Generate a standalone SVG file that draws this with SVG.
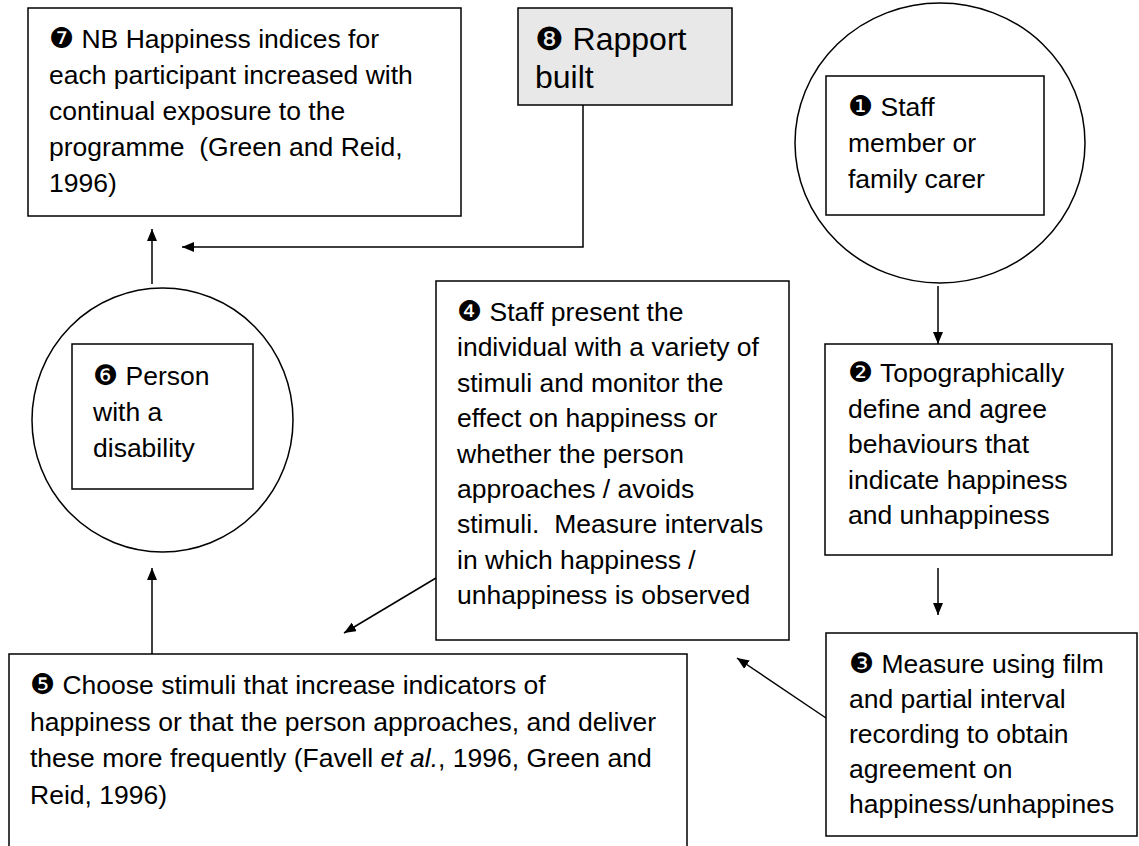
<svg xmlns="http://www.w3.org/2000/svg" width="1139" height="846" viewBox="0 0 1139 846">
  <style>
    .box { fill: #ffffff; stroke: #000000; stroke-width: 1.5; }
    .grey { fill: #e8e8e8; }
    .ring { fill: #ffffff; stroke: #000000; stroke-width: 1.5; }
    .t { font-family: "Liberation Sans", Arial, sans-serif; font-size: 26.5px; fill: #000000; }
    .big { font-size: 32px; }
    .num { font-family: "DejaVu Sans", sans-serif; font-size: 28px; }
    .wire { fill: none; stroke: #000000; stroke-width: 1.5; }
  </style>
  <defs>
    <marker id="arrow" viewBox="0 0 12 10" refX="12" refY="5" markerWidth="12" markerHeight="10" markerUnits="userSpaceOnUse" orient="auto">
      <path d="M0,0 L12,5 L0,10 Z" fill="#000000"/>
    </marker>
  </defs>

  <rect width="1139" height="846" fill="#ffffff"/>

  <!-- step 7 -->
  <g id="node7">
    <rect class="box" x="28" y="8" width="433" height="208"/>
    <text class="t">
      <tspan x="49" y="48"><tspan class="num">❼</tspan> NB Happiness indices for</tspan>
      <tspan x="49" y="84">each participant increased with</tspan>
      <tspan x="49" y="120">continual exposure to the</tspan>
      <tspan x="49" y="156">programme &#160;(Green and Reid,</tspan>
      <tspan x="49" y="192">1996)</tspan>
    </text>
  </g>

  <!-- step 8 -->
  <g id="node8">
    <rect class="box grey" x="518" y="8" width="214" height="97"/>
    <text class="t big">
      <tspan x="535" y="50"><tspan class="num" style="font-size:32px">❽</tspan> Rapport</tspan>
      <tspan x="535" y="88">built</tspan>
    </text>
  </g>

  <!-- step 1 -->
  <g id="node1">
    <ellipse class="ring" cx="940" cy="143" rx="145" ry="140"/>
    <rect class="box" x="826" y="76" width="218" height="139"/>
    <text class="t">
      <tspan x="848" y="116"><tspan class="num">❶</tspan> Staff</tspan>
      <tspan x="848" y="152">member or</tspan>
      <tspan x="848" y="188">family carer</tspan>
    </text>
  </g>

  <!-- step 2 -->
  <g id="node2">
    <rect class="box" x="825" y="344" width="287" height="211"/>
    <text class="t">
      <tspan x="848" y="382"><tspan class="num">❷</tspan> Topographically</tspan>
      <tspan x="848" y="417.5">define and agree</tspan>
      <tspan x="848" y="453">behaviours that</tspan>
      <tspan x="848" y="488.5">indicate happiness</tspan>
      <tspan x="848" y="524">and unhappiness</tspan>
    </text>
  </g>

  <!-- step 3 -->
  <g id="node3">
    <rect class="box" x="826" y="633" width="311" height="203"/>
    <text class="t">
      <tspan x="849" y="673"><tspan class="num">❸</tspan> Measure using film</tspan>
      <tspan x="849" y="708">and partial interval</tspan>
      <tspan x="849" y="743">recording to obtain</tspan>
      <tspan x="849" y="778">agreement on</tspan>
      <tspan x="849" y="813">happiness/unhappines</tspan>
    </text>
  </g>

  <!-- step 4 -->
  <g id="node4">
    <rect class="box" x="436" y="281" width="353" height="359"/>
    <text class="t">
      <tspan x="457" y="321"><tspan class="num">❹</tspan> Staff present the</tspan>
      <tspan x="457" y="356.4">individual with a variety of</tspan>
      <tspan x="457" y="391.8">stimuli and monitor the</tspan>
      <tspan x="457" y="427.2">effect on happiness or</tspan>
      <tspan x="457" y="462.6">whether the person</tspan>
      <tspan x="457" y="498">approaches / avoids</tspan>
      <tspan x="457" y="533.4">stimuli. &#160;Measure intervals</tspan>
      <tspan x="457" y="568.8">in which happiness /</tspan>
      <tspan x="457" y="604.2">unhappiness is observed</tspan>
    </text>
  </g>

  <!-- step 5 -->
  <g id="node5">
    <rect class="box" x="9" y="654" width="678" height="210"/>
    <text class="t">
      <tspan x="30" y="694"><tspan class="num">❺</tspan> Choose stimuli that increase indicators of</tspan>
      <tspan x="30" y="730.5">happiness or that the person approaches, and deliver</tspan>
      <tspan x="30" y="767">these more frequently (Favell <tspan font-style="italic">et al.</tspan>, 1996, Green and</tspan>
      <tspan x="30" y="803.5">Reid, 1996)</tspan>
    </text>
  </g>

  <!-- step 6 -->
  <g id="node6">
    <ellipse class="ring" cx="162.5" cy="420" rx="130.5" ry="132"/>
    <rect class="box" x="72" y="344" width="181" height="145"/>
    <text class="t">
      <tspan x="93" y="385"><tspan class="num">❻</tspan> Person</tspan>
      <tspan x="93" y="421">with a</tspan>
      <tspan x="93" y="457">disability</tspan>
    </text>
  </g>

  <!-- connectors -->
  <g id="connectors">
    <path class="wire" d="M583,105 V247 H182" marker-end="url(#arrow)"/>
    <path class="wire" d="M152,284 V229" marker-end="url(#arrow)"/>
    <path class="wire" d="M938,286 V344" marker-end="url(#arrow)"/>
    <path class="wire" d="M938,568 V615" marker-end="url(#arrow)"/>
    <path class="wire" d="M826,718 L737,658" marker-end="url(#arrow)"/>
    <path class="wire" d="M436,578 L344,633" marker-end="url(#arrow)"/>
    <path class="wire" d="M152,654 V568" marker-end="url(#arrow)"/>
  </g>
</svg>
